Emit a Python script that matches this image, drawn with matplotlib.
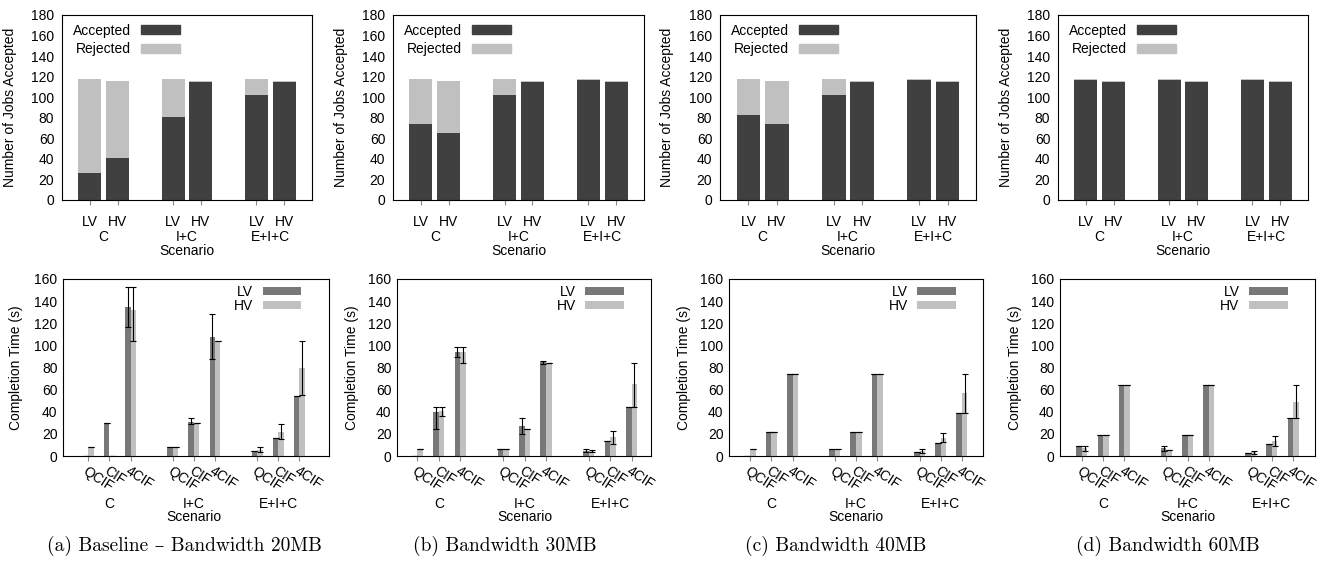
import numpy as np
import matplotlib.pyplot as plt
from matplotlib.patches import Patch

plt.rcParams['font.family'] = ['Liberation Sans', 'DejaVu Sans']
plt.rcParams['font.size'] = 10

scenarios = ['C', 'I+C', 'E+I+C']
variants = ['LV', 'HV']
resolutions = ['QCIF', 'CIF', '4CIF']
captions = ['(a) Baseline – Bandwidth 20MB', '(b) Bandwidth 30MB',
            '(c) Bandwidth 40MB', '(d) Bandwidth 60MB']

# jobs submitted (LV, HV)
submitted = [118, 116]
# accepted jobs: C-LV, C-HV, I+C-LV, I+C-HV, E+I+C-LV, E+I+C-HV
accepted_20 = [26, 41, 81, 115, 102, 115]
accepted_30 = [74, 65, 102, 115, 117, 115]
accepted_40 = [83, 74, 102, 115, 117, 115]
accepted_60 = [117, 115, 117, 115, 117, 115]

# completion times: C (QCIF, CIF, 4CIF), I+C (...), E+I+C (...)
lv_time_20 = [0, 30, 135, 8.4, 31, 108, 4.5, 16, 54]
lv_range_20 = [(0, 0), (30, 30), (117, 152.5), (8.4, 8.4), (29, 34), (88, 128),
               (4.5, 4.5), (16, 16), (54, 54)]
hv_time_20 = [8.4, 0.4, 132, 8.4, 30, 104, 5.5, 21.7, 80]
hv_range_20 = [(8.4, 8.4), (0.4, 0.4), (104, 152.5), (8.4, 8.4), (30, 30), (104, 104),
               (3.6, 8.4), (15.5, 28.9), (55, 104)]

lv_time_30 = [0, 39.8, 93.9, 6.3, 27.2, 84.8, 4.8, 13.3, 44.1]
lv_range_30 = [(0, 0), (24.2, 44.4), (89.7, 98.1), (6.3, 6.3), (20.3, 34.1), (83.3, 86.3),
               (3.3, 6.6), (13.3, 13.3), (44.1, 44.1)]
hv_time_30 = [6.3, 40.5, 93.6, 6.3, 24.2, 84.2, 4.2, 16.9, 64.9]
hv_range_30 = [(6.3, 6.3), (36.5, 44.4), (84.2, 98.1), (6.3, 6.3), (24.2, 24.2), (84.2, 84.2),
               (3.2, 5.5), (10.9, 22.9), (44.7, 84.2)]

lv_time_40 = [0, 22, 74.3, 6, 22, 74.3, 3.3, 12.1, 39.2]
lv_range_40 = [(0, 0), (22, 22), (74.3, 74.3), (6, 6), (22, 22), (74.3, 74.3),
               (3.3, 3.3), (12.1, 12.1), (39.2, 39.2)]
hv_time_40 = [6, 22, 74.3, 6, 22, 74.3, 4.2, 16.3, 56.8]
hv_range_40 = [(6, 6), (22, 22), (74.3, 74.3), (6, 6), (22, 22), (74.3, 74.3),
               (2.5, 6.3), (13, 21.1), (39.2, 74.3)]

lv_time_60 = [9.4, 19, 64, 6.9, 19, 64, 2.4, 10.6, 34.7]
lv_range_60 = [(9.4, 9.4), (19, 19), (64, 64), (4.8, 9.1), (19, 19), (64, 64),
               (2.4, 2.4), (10.6, 10.6), (34.7, 34.7)]
hv_time_60 = [7.2, 19, 64, 5.1, 19, 64, 3.3, 13.6, 49.2]
hv_range_60 = [(4.8, 9.1), (19, 19), (64, 64), (5.1, 5.1), (19, 19), (64, 64),
               (2.1, 4.5), (9.1, 18.1), (34.1, 64)]

accepted_all = [accepted_20, accepted_30, accepted_40, accepted_60]
times_all = [(lv_time_20, lv_range_20, hv_time_20, hv_range_20),
             (lv_time_30, lv_range_30, hv_time_30, hv_range_30),
             (lv_time_40, lv_range_40, hv_time_40, hv_range_40),
             (lv_time_60, lv_range_60, hv_time_60, hv_range_60)]

W, H = 1330, 561
top_boxes = [(62, 312), (393, 644), (720, 976), (1058, 1308)]
bot_boxes = [(63, 329), (397, 651), (729, 983), (1060, 1315)]
bot_xlims = [(-1.2, 11.4), (-0.95, 10.9), (-1, 11), (-1.04, 11.04)]
cap_x = [184, 505, 836, 1168]


def box(l, r, t, b):
    return [l / W, 1 - b / H, (r - l) / W, (b - t) / H]


C_ACC = '#404040'
C_REJ = '#c0c0c0'
C_LV = '#787878'
C_HV = '#c0c0c0'

fig = plt.figure(figsize=(W / 100, H / 100), dpi=100)

top_pos = np.array([3 * i + j for i in range(len(scenarios)) for j in range(len(variants))])
bot_pos = np.array([4 * i + j for i in range(len(scenarios)) for j in range(len(resolutions))])

for k in range(4):
    # ---- accepted jobs ----
    l, r = top_boxes[k]
    ax = fig.add_axes(box(l, r, 15, 200))
    acc = np.array(accepted_all[k])
    tot = np.array(submitted * len(scenarios))
    ax.bar(top_pos, acc, 0.83, color=C_ACC, label='Accepted')
    ax.bar(top_pos, tot - acc, 0.83, bottom=acc, color=C_REJ, label='Rejected')
    ax.set_xlim(-1, 8)
    ax.set_ylim(0, 180)
    ax.set_yticks(np.arange(0, 181, 20))
    ax.set_xticks(top_pos)
    ax.set_xticklabels(variants * len(scenarios))
    ax.tick_params(axis='x', length=3.6, color='#888888', pad=7.5)
    ax.tick_params(axis='y', length=0, pad=5.5)
    for i, s in enumerate(scenarios):
        ax.text(3 * i + 0.5, -0.2, s, transform=ax.get_xaxis_transform(),
                ha='center', va='center')
    ax.text(3.5, -0.275, 'Scenario', transform=ax.get_xaxis_transform(),
            ha='center', va='center')
    ax.set_ylabel('Number of Jobs Accepted')
    ax.yaxis.set_label_coords(-0.18, 0.5)
    ax.legend(handles=[Patch(color=C_ACC, label='Accepted'), Patch(color=C_REJ, label='Rejected')],
              loc='upper left', bbox_to_anchor=(0.005, 1.006), frameon=False,
              markerfirst=False, handlelength=2.8, handleheight=0.62,
              labelspacing=0.35, handletextpad=0.7, borderaxespad=0.3)

    # ---- completion time ----
    l, r = bot_boxes[k]
    ax = fig.add_axes(box(l, r, 279, 456))
    lv_t, lv_rg, hv_t, hv_rg = times_all[k]
    w = 0.26
    for vals, rg, off, col, lab in [(lv_t, lv_rg, -w / 2, C_LV, 'LV'),
                                    (hv_t, hv_rg, w / 2, C_HV, 'HV')]:
        vals = np.array(vals)
        lo = np.array([a for a, b in rg])
        hi = np.array([b for a, b in rg])
        ax.bar(bot_pos + off, vals, w, color=col, label=lab)
        ax.errorbar(bot_pos + off, vals, yerr=[vals - lo, hi - vals], fmt='none',
                    ecolor='black', elinewidth=0.8, capsize=2, capthick=0.8)
    ax.set_xlim(*bot_xlims[k])
    ax.set_ylim(0, 160)
    ax.set_yticks(np.arange(0, 161, 20))
    ax.set_xticks(bot_pos)
    ax.set_xticklabels(resolutions * len(scenarios), rotation=-33,
                       ha='left', va='top', rotation_mode='anchor')
    ax.tick_params(axis='x', length=3.6, color='#888888', pad=2)
    ax.tick_params(axis='y', length=0, pad=4)
    for i, s in enumerate(scenarios):
        ax.text(4 * i + 1, -0.27, s, transform=ax.get_xaxis_transform(),
                ha='center', va='center')
    ax.text(5, -0.345, 'Scenario', transform=ax.get_xaxis_transform(),
            ha='center', va='center')
    ax.set_ylabel('Completion Time (s)')
    ax.yaxis.set_label_coords(-0.15, 0.5)
    ax.legend(loc='upper right', bbox_to_anchor=(0.933, 1.02), frameon=False,
              markerfirst=False, handlelength=2.8, handleheight=0.5,
              labelspacing=0.0, handletextpad=0.7, borderaxespad=0.3)

    fig.text(cap_x[k] / W, 1 - 546 / H, captions[k], ha='center', va='center',
             fontsize=14, family=['cmr10', 'DejaVu Serif'])

fig.savefig('out.png', dpi=100)
